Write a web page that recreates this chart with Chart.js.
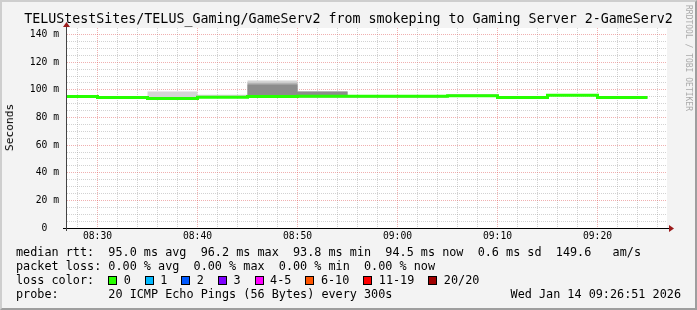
<!DOCTYPE html>
<html lang="en">
<head>
<meta charset="utf-8">
<title>GameServ2 - smokeping</title>
<script src="https://cdn.jsdelivr.net/npm/chart.js@4.4.1/dist/chart.umd.min.js"></script>
<style>
  html, body { margin: 0; padding: 0; }
  body { width: 697px; height: 310px; position: relative; overflow: hidden; background: #f3f3f3;
         font-family: 'DejaVu Sans Mono', monospace; color: #000; }
  #frame { position: absolute; left: 0; top: 0; width: 697px; height: 310px; box-sizing: border-box;
           border: 2px solid; border-color: #cecece #9e9e9e #9e9e9e #cecece; }
  #grafico { position: absolute; left: 0; top: 0; }
  .txt { position: absolute; white-space: pre; line-height: 1; font-weight: normal; }
  #title { left: 0; width: 697px; text-align: center; top: 12px; font-size: 13.3px; }
  #yname { left: 4px; top: 104px; font-size: 11.2px; line-height: 12px; color: #000;
           writing-mode: vertical-rl; transform: rotate(180deg); }
  #brand { left: 684px; top: 5px; font-size: 8px; line-height: 8px; color: #aaa; writing-mode: vertical-rl; }
  .leg { left: 16px; font-size: 11.8px; }
  .box { display: inline-block; width: 7px; height: 7px; border: 1px solid #000; vertical-align: -1px;
         margin: 0 6.5px 0 14px; }
</style>
</head>
<body>
<div id="frame"></div>
<canvas id="grafico" width="697" height="310"></canvas>
<div class="txt" id="title">TELUStestSites/TELUS_Gaming/GameServ2 from smokeping to Gaming Server 2-GameServ2</div>
<div class="txt" id="yname">Seconds</div>
<div class="txt" id="brand">RRDTOOL / TOBI OETIKER</div>
<div class="txt leg" style="top:247px">median rtt:  95.0 ms avg  96.2 ms max  93.8 ms min  94.5 ms now  0.6 ms sd  149.6   am/s</div>
<div class="txt leg" style="top:261px">packet loss: 0.00 % avg  0.00 % max  0.00 % min  0.00 % now</div>
<div class="txt leg" id="losscolor" style="top:275px">loss color:</div>
<div class="txt leg" style="top:289px">probe:       20 ICMP Echo Pings (56 Bytes) every 300s</div>
<div class="txt leg" style="top:289px; left:auto; right:16px">Wed Jan 14 09:26:51 2026</div>

<script>
// end of each 5 minute step, in minutes after 08:00
const stepEnd = [30, 35, 40, 45, 50, 55, 60, 65, 70, 75, 80, 85];
const stepLen = 5;

// median rtt in ms, and the smoke bands (min ping / inner / middle / max ping)
const medianRtt = [95.2, 94.5, 93.8, 94.7, 95.2, 95.3, 95.3, 95.3, 95.8, 94.5, 96.2, 94.5];
const smokeMin  = [94.6, 93.9, 93.2, 94.1, 94.6, 94.7, 94.7, 94.7, 95.2, 93.9, 95.6, 93.9];
const smokeCore = [95.6, 94.9, 94.3, 95.1, 103.9, 98.6, 95.7, 95.7, 96.2, 94.9, 96.6, 94.9];
const smokeMid  = [95.7, 95.0, 94.5, 95.2, 105.2, 98.9, 95.8, 95.8, 96.4, 95.0, 96.7, 95.0];
const smokeMax  = [95.8, 95.1, 98.8, 96.4, 106.7, 99.1, 95.9, 95.9, 97.0, 95.1, 96.8, 95.1];

// time window (minutes after 08:00) and y range
const xMin = 26.95, xMax = 86.95;
const yMin = 0, yMax = 144.8;

const xTickMinutes = [30, 40, 50, 60, 70, 80];
const xTickLabels = ['08:30', '08:40', '08:50', '09:00', '09:10', '09:20'];
const yTickValues = [0, 20, 40, 60, 80, 100, 120, 140];
const yTickLabels = ['0  ', '20 m', '40 m', '60 m', '80 m', '100 m', '120 m', '140 m'];

const lossLabels = ['0', '1', '2', '3', '4-5', '6-10', '11-19', '20/20'];
const lossColors = ['#26ff00', '#00b8ff', '#0059ff', '#7e00ff', '#ff00ff', '#ff5500', '#ff0000', '#a00000'];

const MAJOR = 'rgba(222, 80, 80, 0.45)';
const MINOR = 'rgba(143, 143, 143, 0.4)';

// legend boxes
const lc = document.getElementById('losscolor');
lossLabels.forEach(function (lab, i) {
    const b = document.createElement('span');
    b.className = 'box';
    b.style.background = lossColors[i];
    lc.appendChild(b);
    lc.appendChild(document.createTextNode(lab));
});

// each step drawn flat from its start to its end
function steps(values) {
    const pts = [];
    stepEnd.forEach(function (t, i) {
        pts.push({ x: t - stepLen, y: values[i] });
        pts.push({ x: t, y: values[i] });
    });
    return pts;
}

const canvasAndAxes = {
    id: 'canvasAndAxes',
    beforeDraw(chart) {
        const { ctx, chartArea: a } = chart;
        ctx.save();
        ctx.fillStyle = '#ffffff';
        ctx.fillRect(a.left, a.top, a.right - a.left, a.bottom - a.top);
        ctx.restore();
    },
    afterDraw(chart) {
        const { ctx, chartArea: a } = chart;
        const ax = a.left - 0.5, ay = a.bottom + 0.5;
        ctx.save();
        ctx.lineWidth = 1;
        ctx.strokeStyle = '#000';
        ctx.beginPath();
        ctx.moveTo(a.left - 4, ay);
        ctx.lineTo(a.right + 2, ay);
        ctx.stroke();
        ctx.strokeStyle = '#444';
        ctx.beginPath();
        ctx.moveTo(ax, a.bottom + 3);
        ctx.lineTo(ax, a.top - 1);
        ctx.stroke();
        ctx.fillStyle = '#9b1b1b';
        ctx.beginPath();
        ctx.moveTo(a.right + 2, ay - 3.5);
        ctx.lineTo(a.right + 7, ay);
        ctx.lineTo(a.right + 2, ay + 3.5);
        ctx.closePath();
        ctx.fill();
        ctx.beginPath();
        ctx.moveTo(ax - 3.5, a.top - 1);
        ctx.lineTo(ax, a.top - 6);
        ctx.lineTo(ax + 3.5, a.top - 1);
        ctx.closePath();
        ctx.fill();
        ctx.restore();
    }
};

Chart.defaults.font.family = "'DejaVu Sans Mono', monospace";
Chart.defaults.color = '#000';

new Chart(document.getElementById('grafico'), {
    type: 'line',
    data: {
        datasets: [
            { label: 'median rtt', data: steps(medianRtt), borderColor: '#26ff00', borderWidth: 3,
              pointRadius: 0, fill: false, clip: 0 },
            { label: 'smoke min', data: steps(smokeMin), borderWidth: 0, pointRadius: 0, fill: false, clip: 0 },
            { label: 'smoke core', data: steps(smokeCore), borderWidth: 0, pointRadius: 0, fill: 1,
              backgroundColor: '#8c8c8c', clip: 0 },
            { label: 'smoke mid', data: steps(smokeMid), borderWidth: 0, pointRadius: 0, fill: 1,
              backgroundColor: '#b4b4b4', clip: 0 },
            { label: 'smoke max', data: steps(smokeMax), borderWidth: 0, pointRadius: 0, fill: 1,
              backgroundColor: '#d4d4d4', clip: 0 }
        ]
    },
    options: {
        responsive: false,
        animation: false,
        devicePixelRatio: 1,
        layout: { padding: { top: 28, right: 30, left: 0, bottom: 0 } },
        plugins: { legend: { display: false }, tooltip: { enabled: false } },
        scales: {
            x: {
                type: 'linear',
                min: xMin,
                max: xMax,
                afterBuildTicks: function (s) {
                    s.ticks = [];
                    for (let m = 28; m <= 86; m += 2) s.ticks.push({ value: m, major: m % 10 === 0 });
                },
                afterFit: function (s) { s.height = 82; },
                grid: {
                    color: c => (c.tick && c.tick.major) ? MAJOR : MINOR,
                    drawTicks: false,
                    lineWidth: 1
                },
                border: { display: false, dash: [1, 1] },
                ticks: {
                    autoSkip: false,
                    maxRotation: 0,
                    minRotation: 0,
                    padding: 3,
                    font: { size: 9.7 },
                    callback: function (v) {
                        const i = xTickMinutes.indexOf(v);
                        return i >= 0 ? xTickLabels[i] : '';
                    }
                }
            },
            y: {
                min: yMin,
                max: yMax,
                afterBuildTicks: function (s) {
                    s.ticks = [];
                    for (let v = 0; v <= 140; v += 5) s.ticks.push({ value: v, major: v % 20 === 0 });
                },
                afterFit: function (s) { s.width = 67; },
                grid: {
                    color: c => (c.tick && c.tick.major) ? MAJOR : MINOR,
                    drawTicks: false,
                    lineWidth: 1
                },
                border: { display: false, dash: [1, 1] },
                ticks: {
                    autoSkip: false,
                    padding: 8,
                    font: { size: 9.7 },
                    callback: function (v) {
                        const i = yTickValues.indexOf(v);
                        return i >= 0 ? yTickLabels[i] : '';
                    }
                }
            }
        }
    },
    plugins: [canvasAndAxes]
});
</script>
</body>
</html>
